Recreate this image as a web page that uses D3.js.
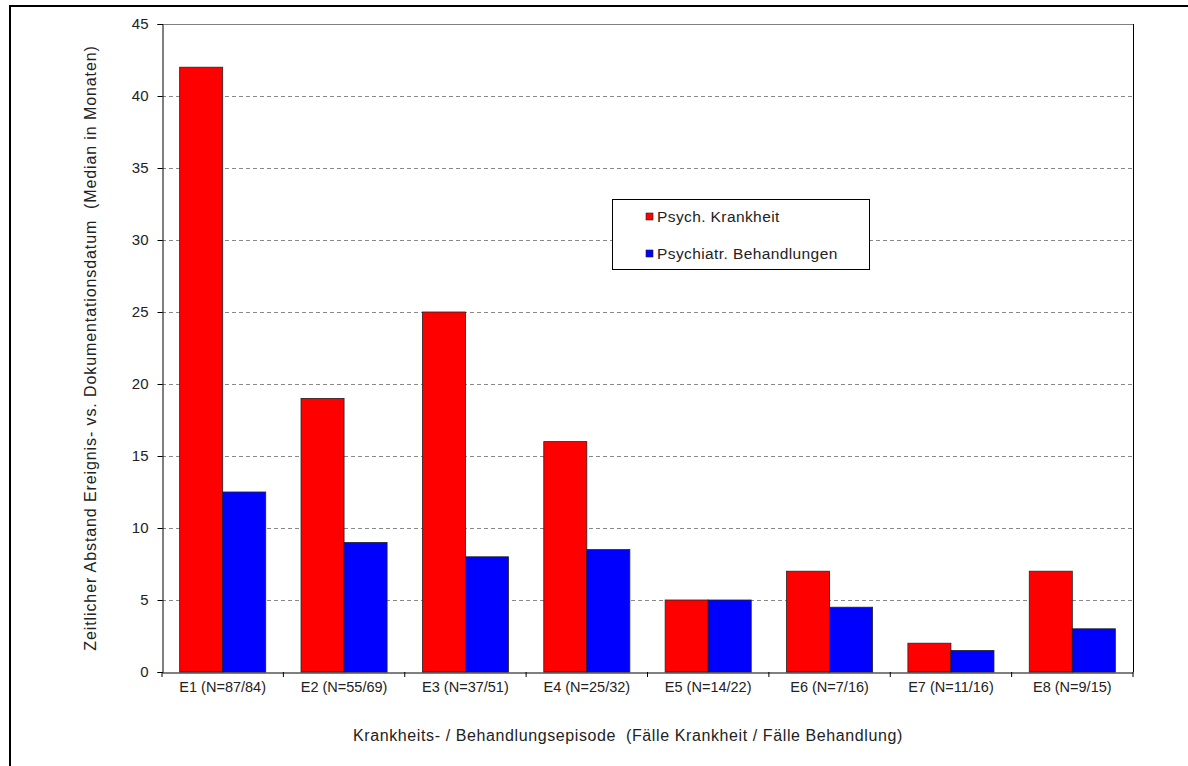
<!DOCTYPE html>
<html><head><meta charset="utf-8">
<script src="https://cdn.jsdelivr.net/npm/d3@7"></script>
<style>body{margin:0;background:#fff}svg{display:block}text{font-family:"Liberation Sans",Arial,sans-serif;fill:#222;white-space:pre}</style>
</head><body><svg id="c" width="1188" height="766"></svg>
<script>
const categories = ["E1 (N=87/84)","E2 (N=55/69)","E3 (N=37/51)","E4 (N=25/32)","E5 (N=14/22)","E6 (N=7/16)","E7 (N=11/16)","E8 (N=9/15)"];
const krankheit = [42,19,25,16,5,7,2,7];
const behandlung = [12.5,9,8,8.5,5,4.5,1.5,3];
const seriesNames = ["Psych. Krankheit","Psychiatr. Behandlungen"];
const seriesColors = ["#ff0000","#0000ff"];
const yTicks = [0,5,10,15,20,25,30,35,40,45];

const svg = d3.select("#c");
const L=162,R=1133,T=24,B=672;
// outer frame
svg.append("line").attr("x1",10).attr("x2",10).attr("y1",5).attr("y2",766).attr("stroke","#000").attr("stroke-width",2);
svg.append("line").attr("x1",9).attr("x2",1188).attr("y1",6).attr("y2",6).attr("stroke","#000").attr("stroke-width",2);

const x = d3.scaleBand().domain(categories).range([L,R]);
const y = d3.scaleLinear().domain([0,45]).range([B,T]);
const xs = d3.scaleBand().domain([0,1]).range([0,x.bandwidth()]).paddingInner(0).paddingOuter(0.41);

// gridlines
svg.append("g").selectAll("line").data(yTicks.filter(d=>d>0&&d<45)).join("line")
  .attr("x1",L).attr("x2",R).attr("y1",d=>Math.round(y(d))+0.5).attr("y2",d=>Math.round(y(d))+0.5)
  .attr("stroke","#888").attr("stroke-dasharray","4,3").attr("stroke-width",1);
// plot area border
svg.append("line").attr("x1",L).attr("x2",R).attr("y1",T+0.5).attr("y2",T+0.5).attr("stroke","#808080");
svg.append("line").attr("x1",R+0.5).attr("x2",R+0.5).attr("y1",T).attr("y2",B).attr("stroke","#000");

// bars
const data = categories.map((c,i)=>({c, v:[krankheit[i],behandlung[i]]}));
const g = svg.append("g").selectAll("g").data(data).join("g").attr("transform",d=>`translate(${x(d.c)},0)`);
g.selectAll("rect").data(d=>d.v.map((v,k)=>({v,k}))).join("rect")
  .attr("x",d=>xs(d.k)).attr("width",xs.bandwidth())
  .attr("y",d=>y(d.v)).attr("height",d=>B-y(d.v))
  .attr("fill",d=>seriesColors[d.k]).attr("stroke","#222").attr("stroke-width",0.8);

// y axis
const ya = svg.append("g").attr("transform",`translate(${L+0.5},0)`)
  .call(d3.axisLeft(y).tickValues(yTicks).tickSize(5).tickPadding(9));
ya.select(".domain").attr("stroke","#000");
ya.selectAll(".tick line").attr("stroke","#000");
ya.selectAll("text").style("font-size","15px").attr("fill","#222");

// x axis
const xa = svg.append("g").attr("transform",`translate(0,${B+0.5})`)
  .call(d3.axisBottom(x).tickSize(0).tickPadding(9));
xa.select(".domain").attr("stroke","#000");
xa.selectAll("text").style("font-size","14.5px").attr("fill","#222");
svg.append("g").selectAll("line").data(d3.range(categories.length+1)).join("line")
  .attr("x1",i=>L+i*x.step()).attr("x2",i=>L+i*x.step()).attr("y1",B).attr("y2",B+5).attr("stroke","#000");

// titles
svg.append("text").attr("x",628).attr("y",741).attr("text-anchor","middle").style("font-size","16px").style("letter-spacing","0.6px")
  .text("Krankheits- / Behandlungsepisode  (Fälle Krankheit / Fälle Behandlung)");
svg.append("text").attr("transform","translate(96,348) rotate(-90)").attr("text-anchor","middle").style("font-size","16px").style("letter-spacing","0.9px")
  .text("Zeitlicher Abstand Ereignis- vs. Dokumentationsdatum  (Median in Monaten)");

// legend
const lg = svg.append("g");
lg.append("rect").attr("x",612.5).attr("y",199.5).attr("width",257).attr("height",70).attr("fill","#fff").attr("stroke","#000");
seriesNames.forEach((n,i)=>{
  const yy = 217 + i*37;
  lg.append("rect").attr("x",646).attr("y",yy-4).attr("width",7).attr("height",7).attr("fill",seriesColors[i]).attr("stroke","#222").attr("stroke-width",0.6);
  lg.append("text").attr("x",657).attr("y",yy+5).style("font-size","15.5px").style("letter-spacing","0.4px").text(n);
});
</script></body></html>
